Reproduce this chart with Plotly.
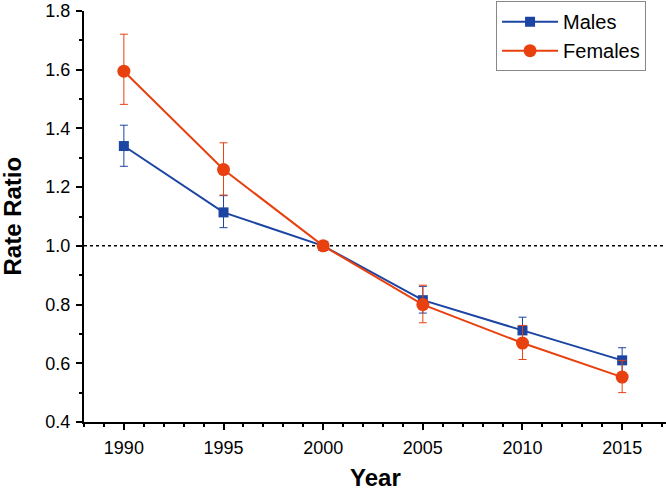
import plotly.graph_objects as go

years = [1990, 1995, 2000, 2005, 2010, 2015]
males = [1.340, 1.114, 1.0, 0.815, 0.712, 0.610]
males_hi = [1.411, 1.171, 1.0, 0.862, 0.757, 0.653]
males_lo = [1.271, 1.062, 1.0, 0.771, 0.668, 0.568]
females = [1.595, 1.260, 1.0, 0.800, 0.669, 0.553]
females_hi = [1.721, 1.351, 1.0, 0.866, 0.729, 0.610]
females_lo = [1.482, 1.173, 1.0, 0.738, 0.613, 0.500]

blue = "#1C44A2"
red = "#E8410F"

fig = go.Figure()
fig.add_shape(type="line", xref="paper", yref="y", x0=0, x1=1, y0=1.0, y1=1.0,
              line=dict(color="black", width=1.5, dash="dot"), layer="below")

def add(name, vals, hi, lo, color, symbol, size):
    fig.add_trace(go.Scatter(
        x=years, y=vals, name=name, mode="lines+markers",
        line=dict(color=color, width=2),
        marker=dict(symbol=symbol, size=size, color=color),
        error_y=dict(type="data", symmetric=False,
                     array=[h - v for h, v in zip(hi, vals)],
                     arrayminus=[v - l for v, l in zip(vals, lo)],
                     color=color, thickness=1, width=4),
    ))

add("Males", males, males_hi, males_lo, blue, "square", 10)
add("Females", females, females_hi, females_lo, red, "circle", 13)

fig.add_annotation(text="<b>Year</b>", xref="paper", yref="paper", x=0.5, y=0,
                   yshift=-55, xanchor="center", yanchor="middle", showarrow=False,
                   font=dict(size=24), borderpad=0)
fig.add_annotation(text="<b>Rate Ratio</b>", xref="paper", yref="paper", x=0, y=0.5,
                   xshift=-72, xanchor="center", yanchor="middle", showarrow=False,
                   textangle=-90, font=dict(size=24), borderpad=0)

fig.update_layout(
    width=666, height=490,
    margin=dict(l=84, r=0, t=11, b=68, autoexpand=False),
    paper_bgcolor="white", plot_bgcolor="white",
    font=dict(family="Liberation Sans, Arial, sans-serif", size=18, color="black"),
    showlegend=True,
    legend=dict(x=0.708, y=1.024, xanchor="left", yanchor="top",
                bordercolor="#888888", borderwidth=1, bgcolor="white",
                font=dict(size=20), tracegroupgap=0, itemwidth=56),
    xaxis=dict(
        range=[1988, 2017.2], tickvals=years, ticks="outside", ticklen=6, tickwidth=1.5,
        tickcolor="black", showline=True, linecolor="black", linewidth=2,
        showgrid=False, zeroline=False, ticklabelstandoff=2, automargin=False,
        minor=dict(dtick=1, tick0=1988, ticks="outside", ticklen=3, tickwidth=1.5, tickcolor="black", showgrid=False),
    ),
    yaxis=dict(
        range=[0.4, 1.8], dtick=0.2, tick0=0.4, tickformat=".1f", ticks="outside", ticklen=6,
        tickwidth=1.5, tickcolor="black", showline=True, linecolor="black", linewidth=2,
        showgrid=False, zeroline=False, automargin=False, ticklabelstandoff=2,
        minor=dict(dtick=0.1, tick0=0.4, ticks="outside", ticklen=3, tickwidth=1.5, tickcolor="black", showgrid=False),
    ),
)

fig.write_html("out.html", config={"displayModeBar": False},
               post_script="document.body.style.margin='0';document.body.style.overflow='hidden';")
